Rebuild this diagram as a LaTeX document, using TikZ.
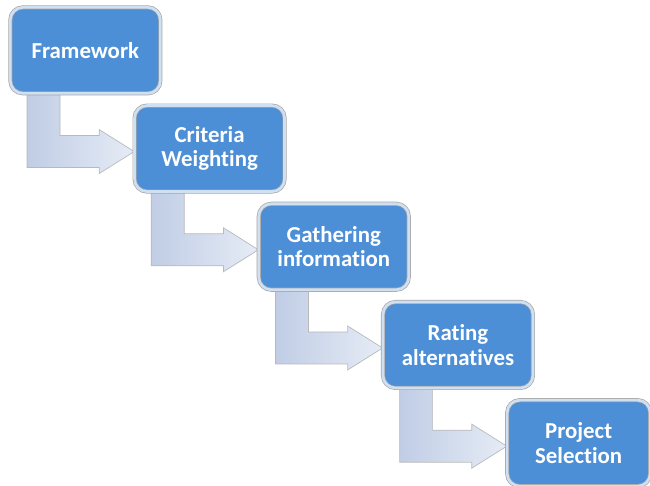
\documentclass[tikz,border=0pt]{standalone}
\usepackage{fontspec}
\newfontfamily\stagefont[Ligatures=NoCommon]{Carlito}
\usepackage{xcolor}
\usetikzlibrary{positioning, calc, backgrounds}
\definecolor{stageblue}{RGB}{77,143,214}
\definecolor{stageedge}{RGB}{208,224,243}
\definecolor{flowblue}{RGB}{192,205,229}
\definecolor{flowlight}{RGB}{230,236,246}
\tikzstyle{stage} = [rectangle, rounded corners=0.25cm, 
minimum width=3cm, 
minimum height=1.72cm, 
inner sep=2pt,
text width=2.7cm, 
align=center, 
fill=stageblue, 
draw=gray!70, double=stageedge, double distance=1.5pt, line width=0.4pt,
text=white, 
font=\stagefont\bfseries\fontsize{13}{14}\selectfont]
\tikzstyle{flow} = [draw=gray!55, line width=0.4pt, 
left color=flowblue, 
right color=flowlight]

\begin{document}
\begin{tikzpicture}[node distance=0.23cm and -0.53cm]
        \useasboundingbox (0,0) rectangle (13,-9.7);

        \node (frame) [stage, anchor=north west] at (0.2,-0.14) {Framework};
        \node (crit) [stage, below right=of frame] {Criteria\\Weighting};
        \node (gath) [stage, below right=of crit] {Gathering\\information};
        \node (rate) [stage, below right=of gath] {Rating\\alternatives};
        \node (proj) [stage, below right=of rate, minimum width=2.86cm, text width=2.6cm] {Project\\Selection};

        % bent arrows between the stages
        \begin{scope}[on background layer]
        \foreach \a/\b in {frame/crit, crit/gath, gath/rate, rate/proj}
            \draw [flow] let \p1 = ($(\a.south west)+(0.67,0.1)$), \p2 = ($(\b.west)+(0,-0.06)$) in
                (\x1-0.33cm,\y1) |- (\x2-0.7cm,\y2-0.32cm) -- ++(0,-0.12cm) -- (\x2,\y2)
                -- (\x2-0.7cm,\y2+0.44cm) -- ++(0,-0.12cm) -| (\x1+0.33cm,\y1) -- cycle;
        \end{scope}

    \end{tikzpicture}
\end{document}
